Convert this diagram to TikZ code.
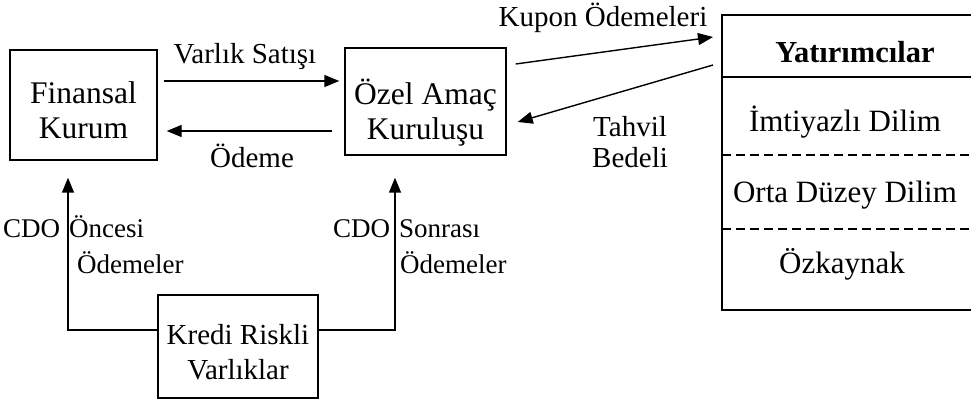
\documentclass[tikz,border=0pt]{standalone}
\usepackage{fontspec}
\setmainfont{Liberation Serif}
\usetikzlibrary{arrows.meta}
\begin{document}
\begin{tikzpicture}[x=1pt,y=-1pt,
  every node/.style={font=\fontsize{29}{34}\selectfont, inner sep=0pt},
  box/.style={draw, line width=1.4pt},
  boxtext/.style={align=center, font=\fontsize{#1}{35}\selectfont},
  boxtext/.default=31.5,
  note/.style={font=\fontsize{27}{34}\selectfont},
  slicetext/.style={font=\fontsize{31}{36}\selectfont},
  link/.style={line width=1.4pt, -{Triangle[length=15pt,width=12pt]}},
  slice/.style={line width=1.2pt, dash pattern=on 9pt off 5pt}]
\useasboundingbox (0,0) rectangle (971,403);

% institutions
\node[box, minimum width=147pt, minimum height=110pt] (fin) at (83.5,105) {};
\node[boxtext] (fintext) at ([yshift=-5pt]fin.center) {Finansal\\Kurum};
\node[box, minimum width=161pt, minimum height=107pt] (spv) at (425.5,101.5) {};
\node[boxtext] (spvtext) at ([yshift=-11pt]spv.center) {Özel Amaç\\Kuruluşu};
\node[box, minimum width=160pt, minimum height=103pt] (kredi) at (238,346.5) {};
\node[boxtext=29] (kreditext) at ([yshift=-6pt]kredi.center) {Kredi Riskli\\Varlıklar};

% investors box, open to the right
\coordinate (invtl) at (722,15);
\coordinate (invbl) at (722,310);
\draw[line width=1.4pt] (980,15) -- (invtl) -- (invbl) -- (980,310);
\draw[line width=1.4pt] (722,77) -- (980,77);
\draw[slice] (722,155) -- (980,155);
\draw[slice] (722,229) -- (980,229);
\node[anchor=base, font=\fontsize{30.5}{36}\selectfont\bfseries] (yat) at (855,63) {Yatırımcılar};
\node[anchor=base, slicetext] (imt) at (845,132) {İmtiyazlı Dilim};
\node[anchor=base, slicetext] (orta) at (845,203) {Orta Düzey Dilim};
\node[anchor=base, slicetext] (oz) at (842,273) {Özkaynak};

% points beside the investors box
\coordinate (kin) at (713,37);
\coordinate (tout) at (713,65);

% flows between institution and vehicle
\draw[link] ([xshift=6pt]fin.east |- 0,81) -- ([xshift=-5pt]spv.west |- 0,81);
\draw[link] ([xshift=-12pt]spv.west |- 0,131) -- ([xshift=9pt]fin.east |- 0,131);
\node[anchor=base] (vs) at (245,64) {Varlık Satışı};
\node[anchor=base] (od) at (252,168) {Ödeme};

% flows with investors
\draw[link] ([xshift=9pt]spv.east |- 0,64) -- (kin);
\draw[link] (tout) -- ([xshift=11pt]spv.east |- 0,122);
\node[anchor=base] (kup) at (603,27) {Kupon Ödemeleri};
\node[anchor=base] (tah) at (630,137) {Tahvil};
\node[anchor=base] (bed) at (630,168) {Bedeli};

% payments from the credit assets
\draw[link] (kredi.west |- 0,330) -| ([yshift=-17pt]fin.south -| 68,0);
\draw[link] (kredi.east |- 0,330) -| ([yshift=-22pt]spv.south -| 395,0);
\node[anchor=base west, note] (cdo1) at (3,238) {CDO\hspace{9pt}Öncesi};
\node[anchor=base west, note] (ode1) at (77,273) {Ödemeler};
\node[anchor=base west, note] (cdo2) at (333,238) {CDO\hspace{9pt}Sonrası};
\node[anchor=base west, note] (ode2) at (400,273) {Ödemeler};
\end{tikzpicture}
\end{document}
